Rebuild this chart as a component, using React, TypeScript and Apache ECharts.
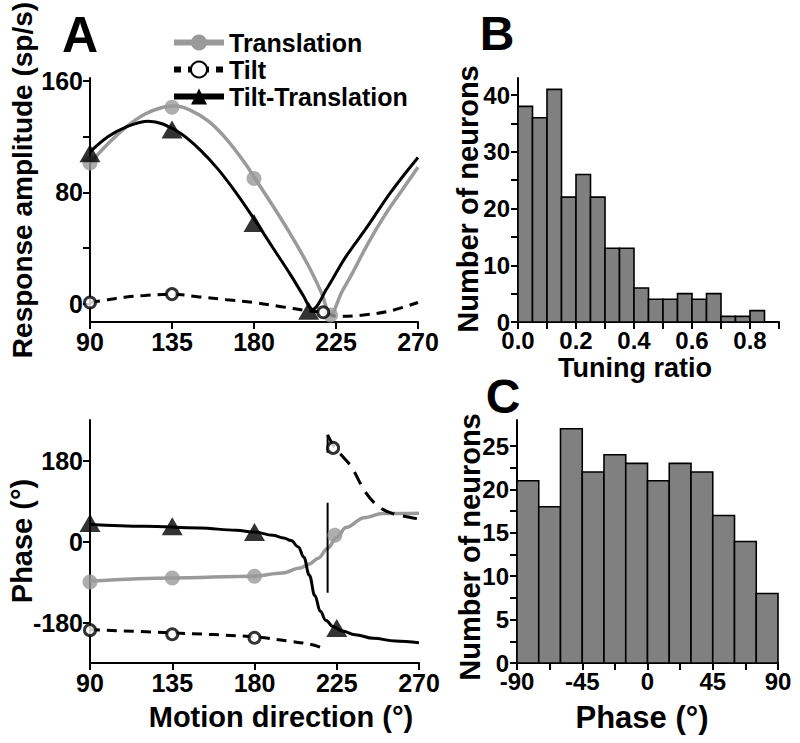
import React, { useEffect, useRef } from "react";
import * as echarts from "echarts";

const FONT = '"Liberation Sans", Arial, Helvetica, sans-serif';
const GRAY = "#9a9a9a";
const BAR_GRAY = "#808080";

// ---------- Panel A (top): response amplitude vs motion direction ----------
const ampTicks = [0, 40, 80, 120, 160];
const ampLabels = [0, 80, 160];
const directionTicks = [90, 135, 180, 225, 270];

const translationAmpCurve = [
  [90, 101], [100, 115], [110, 127], [120, 136], [130, 141], [137, 142], [145, 139],
  [155, 131], [165, 118], [175, 101], [180, 91], [190, 71], [200, 50], [210, 27],
  [217, 8], [222, -8], [228, 8], [234, 22], [242, 42], [252, 64], [262, 83], [270, 98],
];
const tiltAmpCurve = [
  [90, 1], [100, 3], [110, 5], [120, 6], [135, 7], [150, 5], [165, 3], [180, 1],
  [195, -2], [210, -5], [218, -6], [226, -9], [240, -8], [255, -5], [270, 1],
];
const tiltTranslationAmpCurve = [
  [90, 109], [100, 120], [110, 127], [122, 131], [130, 129], [140, 122], [150, 111],
  [160, 97], [170, 80], [180, 61], [190, 41], [200, 21], [207, 6], [212, -4],
  [220, 11], [230, 33], [242, 55], [255, 80], [270, 105],
];
const translationAmpPoints = [[90, 101], [135, 141], [180, 90], [222, -8]];
const tiltAmpPoints = [[90, 1], [135, 7], [218, -6]];
const tiltTranslationAmpPoints = [[90, 108], [135, 125], [180, 58], [210, -5]];

// ---------- Panel A (bottom): phase vs motion direction ----------
const phaseTicks = [-180, 0, 180];
const tiltTranslationPhaseCurve = [
  [90, 38], [120, 34], [150, 30], [170, 25], [180, 21], [190, 14], [196, 8], [200, 2],
  [204, -12], [207, -35], [210, -75], [213, -120], [216, -155], [219, -175],
  [223, -189], [228, -199], [235, -207], [245, -215], [257, -221], [270, -225],
];
const translationPhaseCurve = [
  [90, -88], [135, -81], [180, -77], [195, -70], [205, -59], [210, -50], [215, -37],
  [220, -15], [225, 9], [230, 31], [240, 53], [250, 62], [270, 63],
];
const tiltPhaseCurveLeft = [
  [90, -196], [135, -203], [180, -212], [200, -222], [210, -228], [217, -236],
];
const tiltPhaseCurveRight = [
  [220, 237], [224, 208], [228, 190], [233, 166], [240, 114], [245, 88], [250, 72],
  [255, 63], [262, 56], [270, 50],
];
const wrapLine = [[220, 237], [220, 197], [220, "-"], [220, 86], [220, -114]];
const tiltTranslationPhasePoints = [[90, 41], [135, 34], [180, 21], [225, -192]];
const translationPhasePoints = [[90, -90], [135, -81], [180, -77], [224, 14]];
const tiltPhasePoints = [[90, -197], [135, -206], [180, -214], [223, 208]];

// ---------- Panel B: tuning ratio histogram ----------
const tuningBinStarts = [0, 0.05, 0.1, 0.15, 0.2, 0.25, 0.3, 0.35, 0.4, 0.45, 0.5, 0.55, 0.6, 0.65, 0.7, 0.75, 0.8];
const tuningBinWidth = 0.05;
const tuningCounts = [38, 36, 41, 22, 26, 22, 13, 13, 6, 4, 4, 5, 4, 5, 1, 1, 2];
const tuningXTicks = [0, 0.1, 0.2, 0.3, 0.4, 0.5, 0.6, 0.7, 0.8, 0.9];
const tuningXLabels = [0, 0.2, 0.4, 0.6, 0.8];
const tuningYTicks = [0, 5, 10, 15, 20, 25, 30, 35, 40];
const tuningYLabels = [0, 10, 20, 30, 40];

// ---------- Panel C: phase histogram ----------
const phaseBinStarts = [-90, -75, -60, -45, -30, -15, 0, 15, 30, 45, 60, 75];
const phaseBinWidth = 15;
const phaseCounts = [21, 18, 27, 22, 24, 23, 21, 23, 22, 17, 14, 8];
const phaseXTicks = [-90, -67.5, -45, -22.5, 0, 22.5, 45, 67.5, 90];
const phaseXLabels = [-90, -45, 0, 45, 90];
const phaseYTicks = [0, 2.5, 5, 7.5, 10, 12.5, 15, 17.5, 20, 22.5, 25];
const phaseYLabels = [0, 5, 10, 15, 20, 25];

function makeAxis(
  gridIndex: number,
  min: number,
  max: number,
  ticks: number[],
  labels: number[],
  fontSize: number,
  margin: number,
  formatter?: (v: number) => string
) {
  return {
    type: "value",
    gridIndex,
    min,
    max,
    axisLine: { show: true, onZero: false, lineStyle: { color: "#000", width: 2 } },
    axisTick: { show: true, length: 7, customValues: ticks, lineStyle: { color: "#000", width: 2 } },
    splitLine: { show: false },
    axisLabel: {
      fontSize,
      fontWeight: "bold",
      color: "#000",
      fontFamily: FONT,
      margin,
      customValues: labels,
      showMinLabel: true,
      showMaxLabel: true,
      formatter: formatter || ((v: number) => String(v)),
    },
  };
}

function histData(starts: number[], width: number, counts: number[]) {
  return starts.map((s, i) => [s, s + width, counts[i]]);
}

function histRender(params: any, api: any) {
  const x0 = api.value(0);
  const x1 = api.value(1);
  const y = api.value(2);
  const p0 = api.coord([x0, y]);
  const p1 = api.coord([x1, 0]);
  return {
    type: "rect",
    shape: { x: p0[0], y: p0[1], width: p1[0] - p0[0], height: p1[1] - p0[1] },
    style: { fill: BAR_GRAY, stroke: "#000", lineWidth: 1.6 },
  };
}

function txt(text: string, x: number, y: number, size: number, rotate = 0) {
  return {
    type: "text",
    x,
    y,
    rotation: rotate,
    style: {
      text,
      fill: "#000",
      font: `bold ${size}px ${FONT}`,
      align: "center",
      verticalAlign: "middle",
    },
  };
}

export default function App() {
  const ref = useRef<HTMLDivElement>(null);

  useEffect(() => {
    if (!ref.current) return;
    const chart = echarts.init(ref.current, null, { renderer: "svg" });

    const dash = [10, 7];
    const tiltItem = { color: "#fff", borderColor: "#000", borderWidth: 3 };

    const option: any = {
      animation: false,
      backgroundColor: "#fff",
      legend: {
        data: [
          { name: "Translation", lineStyle: { width: 6 } },
          { name: "Tilt", lineStyle: { width: 6, type: [7, 7] } },
          { name: "Tilt-Translation", lineStyle: { width: 6 } },
        ],
        orient: "vertical",
        left: 166,
        top: 25,
        itemWidth: 50,
        itemHeight: 20,
        itemGap: 2,
        selectedMode: false,
        textStyle: { fontSize: 25, fontWeight: "bold", color: "#000", fontFamily: FONT, lineHeight: 24 },
      },
      grid: [
        { left: 90, top: 78, width: 328, height: 244 },
        { left: 90, top: 420, width: 329, height: 243 },
        { left: 518, top: 78, width: 261, height: 244 },
        { left: 517, top: 420, width: 261, height: 243 },
      ],
      xAxis: [
        makeAxis(0, 90, 270, directionTicks, directionTicks, 25, 7),
        makeAxis(1, 90, 270, directionTicks, directionTicks, 25, 7),
        makeAxis(2, 0, 0.9, tuningXTicks, tuningXLabels, 24, 6, (v: number) => v.toFixed(1)),
        makeAxis(3, -90, 90, phaseXTicks, phaseXLabels, 24, 6),
      ],
      yAxis: [
        makeAxis(0, -13, 162, ampTicks, ampLabels, 25, 7),
        makeAxis(1, -270, 270, phaseTicks, phaseTicks, 25, 7),
        makeAxis(2, 0, 43, tuningYTicks, tuningYLabels, 24, 8),
        makeAxis(3, 0, 28, phaseYTicks, phaseYLabels, 24, 8),
      ],
      series: [
        // --- top panel curves (named, used for legend) ---
        {
          name: "Translation",
          type: "line",
          xAxisIndex: 0,
          yAxisIndex: 0,
          data: translationAmpCurve,
          smooth: 0.35,
          showSymbol: false,
          symbol: "circle",
          symbolSize: 15,
          lineStyle: { color: GRAY, width: 3.5 },
          itemStyle: { color: GRAY },
          z: 2,
        },
        {
          name: "Tilt",
          type: "line",
          xAxisIndex: 0,
          yAxisIndex: 0,
          data: tiltAmpCurve,
          smooth: 0.35,
          showSymbol: false,
          symbol: "circle",
          symbolSize: 12,
          lineStyle: { color: "#000", width: 3, type: dash },
          itemStyle: tiltItem,
          z: 2,
        },
        {
          name: "Tilt-Translation",
          type: "line",
          xAxisIndex: 0,
          yAxisIndex: 0,
          data: tiltTranslationAmpCurve,
          smooth: 0.35,
          showSymbol: false,
          symbol: "triangle",
          symbolSize: [21, 18],
          lineStyle: { color: "#000", width: 3 },
          itemStyle: { color: "#000" },
          z: 2,
        },
        // --- top panel markers ---
        {
          type: "scatter",
          xAxisIndex: 0,
          yAxisIndex: 0,
          data: translationAmpPoints,
          symbol: "circle",
          symbolSize: 15,
          itemStyle: { color: GRAY },
          z: 4,
        },
        {
          type: "scatter",
          xAxisIndex: 0,
          yAxisIndex: 0,
          data: tiltAmpPoints,
          symbol: "circle",
          symbolSize: 11,
          itemStyle: tiltItem,
          z: 5,
        },
        {
          type: "scatter",
          xAxisIndex: 0,
          yAxisIndex: 0,
          data: tiltTranslationAmpPoints,
          symbol: "triangle",
          symbolSize: [21, 18],
          itemStyle: { color: "#000" },
          z: 6,
        },
        // --- bottom panel curves ---
        {
          type: "line",
          xAxisIndex: 1,
          yAxisIndex: 1,
          data: translationPhaseCurve,
          smooth: 0.35,
          smoothMonotone: "x",
          showSymbol: false,
          lineStyle: { color: GRAY, width: 3.5 },
          z: 2,
        },
        {
          type: "line",
          xAxisIndex: 1,
          yAxisIndex: 1,
          data: tiltTranslationPhaseCurve,
          smooth: 0.4,
          smoothMonotone: "x",
          showSymbol: false,
          lineStyle: { color: "#000", width: 3 },
          z: 2,
        },
        {
          type: "line",
          xAxisIndex: 1,
          yAxisIndex: 1,
          data: tiltPhaseCurveLeft,
          smooth: 0.35,
          showSymbol: false,
          lineStyle: { color: "#000", width: 3, type: dash },
          z: 2,
        },
        {
          type: "line",
          xAxisIndex: 1,
          yAxisIndex: 1,
          data: tiltPhaseCurveRight,
          smooth: 0.35,
          showSymbol: false,
          lineStyle: { color: "#000", width: 3, type: [14, 9] },
          z: 2,
        },
        {
          type: "line",
          xAxisIndex: 1,
          yAxisIndex: 1,
          data: wrapLine,
          showSymbol: false,
          connectNulls: false,
          lineStyle: { color: "#000", width: 2 },
          z: 2,
        },
        // --- bottom panel markers ---
        {
          type: "scatter",
          xAxisIndex: 1,
          yAxisIndex: 1,
          data: translationPhasePoints,
          symbol: "circle",
          symbolSize: 15,
          itemStyle: { color: GRAY },
          z: 4,
        },
        {
          type: "scatter",
          xAxisIndex: 1,
          yAxisIndex: 1,
          data: tiltPhasePoints,
          symbol: "circle",
          symbolSize: 11,
          itemStyle: tiltItem,
          z: 5,
        },
        {
          type: "scatter",
          xAxisIndex: 1,
          yAxisIndex: 1,
          data: tiltTranslationPhasePoints,
          symbol: "triangle",
          symbolSize: [21, 18],
          itemStyle: { color: "#000" },
          z: 6,
        },
        // --- histograms ---
        {
          type: "custom",
          xAxisIndex: 2,
          yAxisIndex: 2,
          data: histData(tuningBinStarts, tuningBinWidth, tuningCounts),
          renderItem: histRender,
          encode: { x: [0, 1], y: 2 },
        },
        {
          type: "custom",
          xAxisIndex: 3,
          yAxisIndex: 3,
          data: histData(phaseBinStarts, phaseBinWidth, phaseCounts),
          renderItem: histRender,
          encode: { x: [0, 1], y: 2 },
        },
      ],
      graphic: [
        txt("A", 80, 35, 50),
        txt("B", 497, 33, 48),
        txt("C", 503, 396, 48),
        txt("Response amplitude (sp/s)", 22, 180, 28, Math.PI / 2),
        txt("Phase (°)", 22, 541, 29, Math.PI / 2),
        txt("Motion direction (°)", 281, 717, 29),
        txt("Number of neurons", 468, 199, 29, Math.PI / 2),
        txt("Tuning ratio", 635, 368, 27),
        txt("Number of neurons", 470, 547, 29, Math.PI / 2),
        txt("Phase (°)", 642, 717, 31),
      ],
    };

    chart.setOption(option);
    return () => chart.dispose();
  }, []);

  return (
    <div
      ref={ref}
      style={{ position: "fixed", left: 0, top: 0, width: 800, height: 743, background: "#fff" }}
    />
  );
}
